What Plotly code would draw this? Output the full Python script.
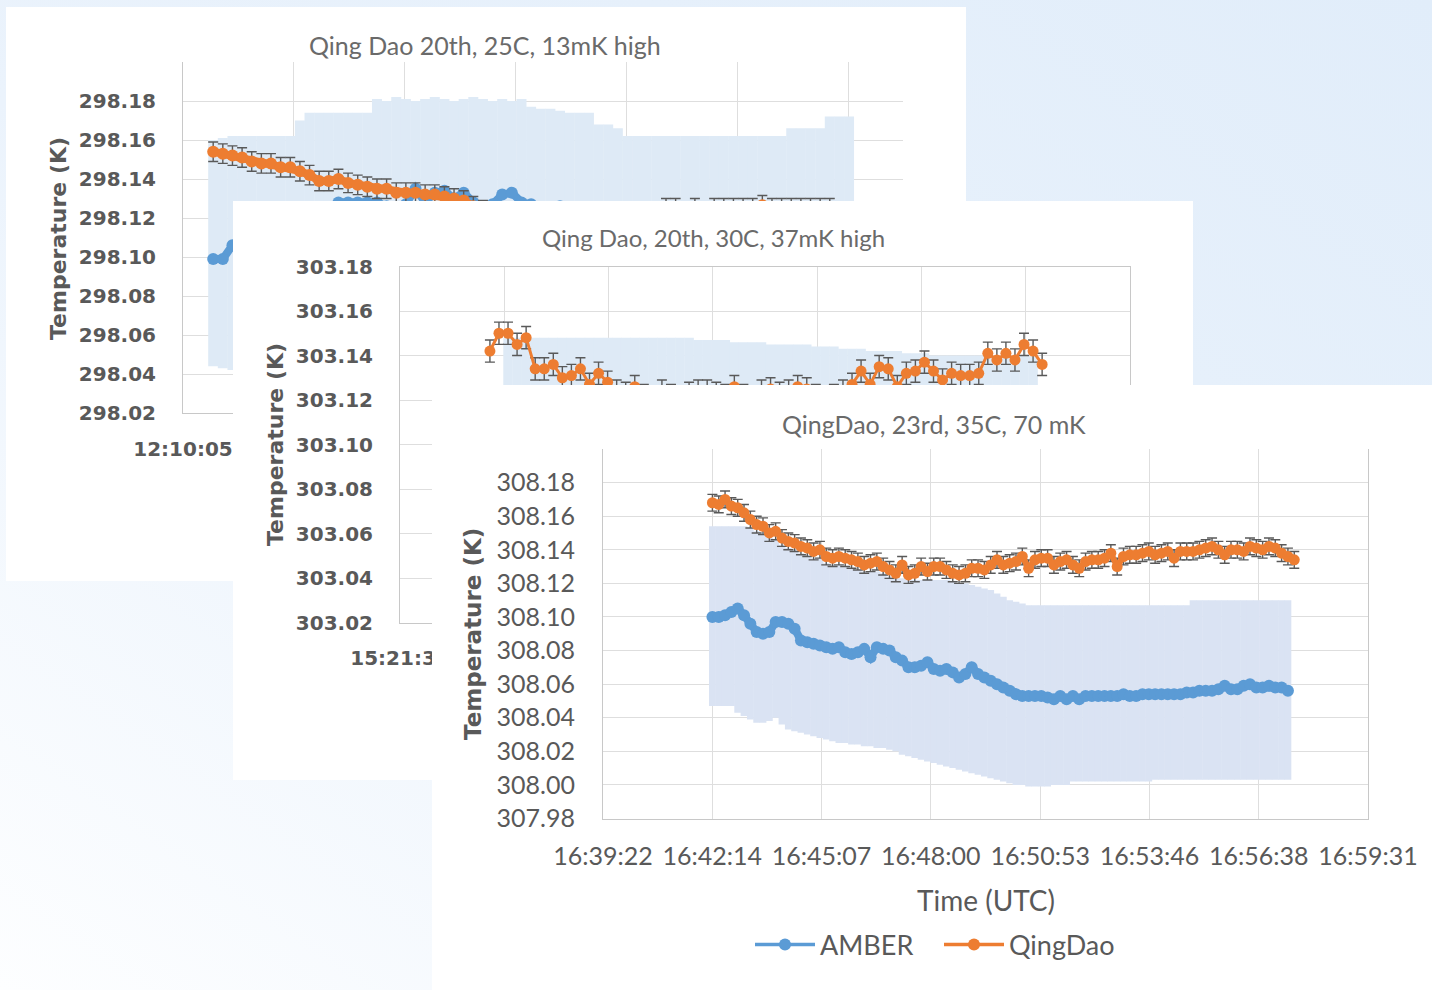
import base64
import pandas as pd
import plotly.graph_objects as go

W, H = 1432, 990

# ---------------- text ----------------
SERIES = ["AMBER", "QingDao"]
TITLES = ["Qing Dao 20th, 25C, 13mK high",
          "Qing Dao, 20th, 30C, 37mK high",
          "QingDao, 23rd, 35C, 70 mK"]
Y_TITLE = "Temperature (K)"
X_TITLE = "Time (UTC)"

TICK_STEP_S = 172.8   # 0.002 day between time ticks

# ---------------- panel 1: 20th, 25C ----------------
P1_DATE = "2019-08-20"
P1_X_RANGE = ["12:10:05", "12:28:46"]
P1_X_TICKS = ["12:10:05", "12:12:57", "12:15:50", "12:18:43", "12:21:36", "12:24:29", "12:27:21"]
P1_X_TICKS_SHOWN = 1          # the other labels sit under the next card
P1_Y_TICKS = [298.02, 298.04, 298.06, 298.08, 298.10, 298.12, 298.14, 298.16, 298.18]
P1_Y_RANGE = [298.02, 298.20]
P1_START = "12:10:52"
P1_STEP = "15s"
P1_AMBER = [
    298.099, 298.099, 298.106, 298.110, 298.114, 298.117, 298.119, 298.120, 298.122, 298.123,
    298.124, 298.124, 298.125, 298.128, 298.128, 298.128, 298.128, 298.128, 298.126, 298.125,
    298.127, 298.135, 298.128, 298.133, 298.134, 298.130, 298.133, 298.128, 298.126, 298.127,
    298.132, 298.133, 298.128, 298.127, 298.125, 298.125, 298.126, 298.125, 298.124, 298.125,
    298.125, 298.124, 298.125, 298.125, 298.124, 298.125, 298.124, 298.124, 298.125, 298.124,
    298.124, 298.125, 298.124, 298.124, 298.125, 298.124, 298.124, 298.125, 298.124, 298.124,
    298.125, 298.124, 298.124, 298.125, 298.124, 298.124, 298.125]
P1_AMBER_UPPER = [
    298.160, 298.161, 298.162, 298.162, 298.162, 298.162, 298.162, 298.162, 298.162, 298.170,
    298.174, 298.174, 298.174, 298.174, 298.174, 298.174, 298.174, 298.181, 298.180, 298.182,
    298.181, 298.180, 298.181, 298.182, 298.181, 298.180, 298.181, 298.182, 298.181, 298.180,
    298.181, 298.180, 298.181, 298.177, 298.176, 298.176, 298.175, 298.174, 298.174, 298.174,
    298.168, 298.168, 298.166, 298.162, 298.162, 298.162, 298.162, 298.162, 298.162, 298.162,
    298.162, 298.162, 298.162, 298.162, 298.162, 298.162, 298.162, 298.162, 298.162, 298.162,
    298.166, 298.166, 298.166, 298.166, 298.172, 298.172, 298.172]
P1_AMBER_LOWER = [
    298.044, 298.043, 298.042, 298.062, 298.066, 298.069, 298.071, 298.073, 298.074, 298.075,
    298.076, 298.076, 298.076, 298.076, 298.076, 298.076, 298.076, 298.076, 298.076, 298.076,
    298.077, 298.077, 298.077, 298.077, 298.077, 298.077, 298.077, 298.077, 298.077, 298.077,
    298.077, 298.077, 298.077, 298.077, 298.077, 298.077, 298.077, 298.077, 298.077, 298.077,
    298.078, 298.078, 298.078, 298.078, 298.078, 298.078, 298.078, 298.078, 298.078, 298.078,
    298.078, 298.078, 298.078, 298.078, 298.078, 298.078, 298.078, 298.078, 298.078, 298.078,
    298.078, 298.078, 298.078, 298.078, 298.078, 298.078, 298.078]
P1_QINGDAO = [
    298.154, 298.153, 298.152, 298.151, 298.149, 298.148, 298.148, 298.146, 298.146, 298.144,
    298.142, 298.139, 298.139, 298.140, 298.138, 298.137, 298.136, 298.135, 298.135, 298.133,
    298.133, 298.133, 298.132, 298.132, 298.131, 298.130, 298.129, 298.126, 298.124, 298.123,
    298.122, 298.122, 298.121, 298.122, 298.121, 298.122, 298.121, 298.122, 298.121, 298.122,
    298.121, 298.122, 298.121, 298.122, 298.121, 298.122, 298.122, 298.125, 298.125, 298.122,
    298.125, 298.122, 298.125, 298.125, 298.125, 298.125, 298.125, 298.1265, 298.125, 298.125,
    298.125, 298.125, 298.125, 298.125, 298.125, 298.122, 298.122]
P1_QINGDAO_ERR = 0.005

# ---------------- panel 2: 20th, 30C ----------------
P2_DATE = "2019-08-20"
P2_X_RANGE = ["15:21:36", "15:41:45.6"]
P2_X_TICKS = ["15:21:36", "15:24:28", "15:27:21", "15:30:14", "15:33:07", "15:36:00", "15:38:52", "15:41:45"]
P2_X_TICKS_SHOWN = 1          # the other labels sit under the front card
P2_Y_TICKS = [303.02, 303.04, 303.06, 303.08, 303.10, 303.12, 303.14, 303.16, 303.18]
P2_Y_RANGE = [303.02, 303.18]
P2_QD_START = "15:24:05"
P2_AMBER_START = "15:24:35"
P2_STEP = "15s"
P2_QINGDAO = [
    303.142, 303.150, 303.150, 303.145, 303.148, 303.134, 303.134, 303.136, 303.130, 303.131,
    303.134, 303.127, 303.132, 303.128, 303.124, 303.123, 303.126, 303.122, 303.121, 303.124,
    303.122, 303.121, 303.123, 303.124, 303.124, 303.123, 303.122, 303.126, 303.122, 303.121,
    303.124, 303.125, 303.123, 303.124, 303.126, 303.125, 303.122, 303.121, 303.122, 303.124,
    303.127, 303.133, 303.127, 303.135, 303.134, 303.126, 303.132, 303.133, 303.137, 303.133,
    303.129, 303.132, 303.131, 303.131, 303.132, 303.141, 303.138, 303.141, 303.138, 303.145,
    303.142, 303.136]
P2_QINGDAO_ERR = 0.005
P2_AMBER = [
    303.093, 303.093, 303.093, 303.093, 303.093, 303.093, 303.093, 303.093, 303.093, 303.093,
    303.093, 303.093, 303.093, 303.093, 303.093, 303.093, 303.093, 303.093,
    303.093, 303.093, 303.093, 303.092, 303.092, 303.092, 303.092, 303.091, 303.091, 303.091,
    303.091, 303.090, 303.090, 303.090,
    303.090, 303.090, 303.089, 303.089, 303.089, 303.088, 303.088, 303.088, 303.087, 303.087,
    303.087,
    303.087, 303.086, 303.086, 303.086, 303.085, 303.085, 303.085,
    303.085, 303.085, 303.085, 303.085, 303.085, 303.085, 303.085, 303.085, 303.085]
P2_AMBER_ERR = 0.055

# ---------------- panel 3: 23rd, 35C ----------------
P3_DATE = "2019-08-23"
P3_X_RANGE = ["16:39:22", "16:59:31.6"]
P3_X_TICKS = ["16:39:22", "16:42:14", "16:45:07", "16:48:00", "16:50:53", "16:53:46", "16:56:38", "16:59:31"]
P3_X_TICKS_SHOWN = 8
P3_Y_TICKS = [307.98, 308.00, 308.02, 308.04, 308.06, 308.08, 308.10, 308.12, 308.14, 308.16, 308.18]
P3_Y_RANGE = [307.98, 308.20]
P3_START = "16:42:15"
P3_STEP = "10s"
P3_QINGDAO = [
    308.168, 308.167, 308.170, 308.166, 308.165, 308.162, 308.158, 308.155, 308.154, 308.150,
    308.151, 308.147, 308.145, 308.144, 308.142, 308.141, 308.139, 308.140, 308.136, 308.135,
    308.136, 308.135, 308.134, 308.133, 308.131, 308.132, 308.133, 308.130, 308.128, 308.126,
    308.131, 308.125, 308.126, 308.130, 308.127, 308.130, 308.130, 308.128, 308.126, 308.125,
    308.126, 308.129, 308.129, 308.128, 308.131, 308.134, 308.131, 308.132, 308.133, 308.136,
    308.129, 308.134, 308.135, 308.135, 308.131, 308.133, 308.134, 308.131, 308.129, 308.133,
    308.134, 308.134, 308.135, 308.138, 308.130, 308.136, 308.137, 308.137, 308.138, 308.139,
    308.137, 308.138, 308.139, 308.135, 308.139, 308.139, 308.139, 308.140, 308.141, 308.142,
    308.140, 308.137, 308.140, 308.140, 308.139, 308.142, 308.141, 308.140, 308.142, 308.141,
    308.138, 308.136, 308.134]
P3_QINGDAO_ERR = 0.005
P3_AMBER = [
    308.100, 308.100, 308.101, 308.103, 308.105, 308.101, 308.096, 308.091, 308.090, 308.091,
    308.097, 308.097, 308.096, 308.093, 308.086, 308.085, 308.084, 308.083, 308.082, 308.081,
    308.082, 308.079, 308.078, 308.079, 308.081, 308.076, 308.082, 308.081, 308.080, 308.076,
    308.074, 308.070, 308.070, 308.071, 308.073, 308.069, 308.068, 308.069, 308.067, 308.064,
    308.066, 308.070, 308.066, 308.064, 308.062, 308.060, 308.058, 308.056, 308.054, 308.053,
    308.053, 308.053, 308.053, 308.052, 308.051, 308.053, 308.051, 308.053, 308.051, 308.053,
    308.053, 308.053, 308.053, 308.053, 308.053, 308.054, 308.053, 308.053, 308.054, 308.054,
    308.054, 308.054, 308.054, 308.054, 308.054, 308.055, 308.055, 308.056, 308.056, 308.056,
    308.057, 308.059, 308.057, 308.057, 308.059, 308.060, 308.058, 308.058, 308.059, 308.058,
    308.058, 308.056]
P3_AMBER_UPPER = [
    308.154, 308.154, 308.154, 308.154, 308.154, 308.154, 308.153, 308.151, 308.150, 308.147,
    308.146, 308.143, 308.141, 308.140, 308.138, 308.137, 308.135, 308.135, 308.132, 308.131,
    308.131, 308.130, 308.129, 308.128, 308.127, 308.127, 308.127, 308.126, 308.124, 308.123,
    308.123, 308.122, 308.122, 308.122, 308.122, 308.122, 308.122, 308.122, 308.121, 308.120,
    308.120, 308.119, 308.118, 308.117, 308.116, 308.114, 308.112, 308.110, 308.109, 308.108,
    308.107, 308.107, 308.107, 308.107, 308.107, 308.107, 308.107, 308.107, 308.107, 308.107,
    308.107, 308.107, 308.107, 308.107, 308.107, 308.107, 308.107, 308.107, 308.107, 308.107,
    308.107, 308.107, 308.107, 308.107, 308.107, 308.107, 308.110, 308.110, 308.110, 308.110,
    308.110, 308.110, 308.110, 308.110, 308.110, 308.110, 308.110, 308.110, 308.110, 308.110,
    308.110, 308.110]
P3_AMBER_LOWER = [
    308.047, 308.047, 308.047, 308.047, 308.043, 308.041, 308.039, 308.037, 308.037, 308.038,
    308.040, 308.036, 308.033, 308.032, 308.031, 308.030, 308.029, 308.028, 308.027, 308.026,
    308.025, 308.025, 308.024, 308.024, 308.023, 308.023, 308.022, 308.022, 308.021, 308.020,
    308.018, 308.017, 308.016, 308.015, 308.014, 308.013, 308.012, 308.011, 308.010, 308.009,
    308.008, 308.007, 308.006, 308.005, 308.004, 308.003, 308.002, 308.001, 308.000, 308.000,
    307.999, 307.999, 307.999, 307.999, 308.000, 308.000, 308.000, 308.002, 308.002, 308.002,
    308.002, 308.002, 308.002, 308.002, 308.002, 308.002, 308.002, 308.002, 308.002, 308.002,
    308.003, 308.003, 308.003, 308.003, 308.003, 308.003, 308.003, 308.003, 308.003, 308.003,
    308.003, 308.003, 308.003, 308.003, 308.003, 308.003, 308.003, 308.003, 308.003, 308.003,
    308.003, 308.003]

# ---------------- styles ----------------
BLUE = "#5b9bd5"
ORANGE = "#ed7d31"
ERR_LIGHT_A = "#deeaf6"
ERR_LIGHT_B = "#dae3f3"
CAP = "#595959"
GRID = "#dedede"
AXLINE = "#c8c8c8"
TXT = "#595959"
CALIBRI_LIKE = "Lato, Noto Sans, sans-serif"
VERDANA_LIKE = "DejaVu Sans, Verdana, sans-serif"


def stamp(date, hms):
    return pd.Timestamp(f"{date} {hms}")


def iso(ts):
    return ts.strftime("%Y-%m-%d %H:%M:%S.%f")[:-3]


def times(date, start, step, n):
    return [iso(t) for t in pd.date_range(stamp(date, start), periods=n, freq=step)]


def tick_positions(date, labels):
    t0 = stamp(date, labels[0])
    return [iso(t0 + pd.Timedelta(seconds=TICK_STEP_S * k)) for k in range(len(labels))]


def px_x(p):
    return p / W


def px_y(p):
    return 1 - p / H


fig = go.Figure()


def amber_trace(x, y, plus, minus, ax, color_err, thick, msize, lw):
    return go.Scatter(
        x=x, y=y, name=SERIES[0], mode="lines+markers",
        line=dict(color=BLUE, width=lw), marker=dict(color=BLUE, size=msize),
        error_y=dict(type="data", symmetric=False, array=plus, arrayminus=minus,
                     color=color_err, thickness=thick, width=0),
        xaxis="x" + ax, yaxis="y" + ax, showlegend=False, hoverinfo="skip",
        cliponaxis=True)


def qd_trace(x, y, err, ax, msize, lw):
    return go.Scatter(
        x=x, y=y, name=SERIES[1], mode="lines+markers",
        line=dict(color=ORANGE, width=lw), marker=dict(color=ORANGE, size=msize),
        error_y=dict(type="constant", value=err, color=CAP, thickness=1.4, width=5),
        xaxis="x" + ax, yaxis="y" + ax, showlegend=False, hoverinfo="skip",
        cliponaxis=True)


def legend_key(name, color, ax):
    # legend entry only (thin line + dot, as in the spreadsheet legend)
    return go.Scatter(x=[None], y=[None], name=name, mode="lines+markers",
                      line=dict(color=color, width=3.5), marker=dict(color=color, size=12),
                      xaxis="x" + ax, yaxis="y" + ax, showlegend=True, hoverinfo="skip")


def dummy(ax):
    return go.Scatter(x=[0.5], y=[0.5], mode="markers", marker=dict(opacity=0),
                      xaxis="x" + ax, yaxis="y" + ax, showlegend=False, hoverinfo="skip")


# panel 1 (subplot x/y)
fig.add_trace(amber_trace(times(P1_DATE, P1_START, P1_STEP, len(P1_AMBER)), P1_AMBER,
                          [u - v for u, v in zip(P1_AMBER_UPPER, P1_AMBER)],
                          [v - l for v, l in zip(P1_AMBER, P1_AMBER_LOWER)],
                          "", ERR_LIGHT_A, 10, 12, 8))
fig.add_trace(qd_trace(times(P1_DATE, P1_START, P1_STEP, len(P1_QINGDAO)), P1_QINGDAO,
                       P1_QINGDAO_ERR, "", 12, 8))
# panel 2 white card (subplot x2/y2)
fig.add_trace(dummy("2"))
# panel 2 (subplot x3/y3)
fig.add_trace(amber_trace(times(P2_DATE, P2_AMBER_START, P2_STEP, len(P2_AMBER)), P2_AMBER,
                          [P2_AMBER_ERR] * len(P2_AMBER), [P2_AMBER_ERR] * len(P2_AMBER),
                          "3", ERR_LIGHT_A, 9.5, 11, 3))
fig.add_trace(qd_trace(times(P2_DATE, P2_QD_START, P2_STEP, len(P2_QINGDAO)), P2_QINGDAO,
                       P2_QINGDAO_ERR, "3", 11, 3))
# panel 3 white card (subplot x4/y4)
fig.add_trace(dummy("4"))
# panel 3 (subplot x5/y5)
fig.add_trace(amber_trace(times(P3_DATE, P3_START, P3_STEP, len(P3_AMBER)), P3_AMBER,
                          [u - v for u, v in zip(P3_AMBER_UPPER, P3_AMBER)],
                          [v - l for v, l in zip(P3_AMBER, P3_AMBER_LOWER)],
                          "5", ERR_LIGHT_B, 6.8, 12, 8))
fig.add_trace(qd_trace(times(P3_DATE, P3_START, P3_STEP, len(P3_QINGDAO)), P3_QINGDAO,
                       P3_QINGDAO_ERR, "5", 11, 6))
fig.add_trace(legend_key(SERIES[0], BLUE, "5"))
fig.add_trace(legend_key(SERIES[1], ORANGE, "5"))

tick_font_a = dict(family=VERDANA_LIKE, size=20, color=TXT, weight="bold")
tick_font_b = dict(family=CALIBRI_LIKE, size=25, color=TXT)


def time_axis(date, rng, labels, shown, dom, font, anchor, standoff, mirror=False):
    text = [lab if k < shown else "" for k, lab in enumerate(labels)]
    return dict(type="date", range=[iso(stamp(date, rng[0])), iso(stamp(date, rng[1]))],
                tickmode="array", tickvals=tick_positions(date, labels), ticktext=text,
                domain=dom, anchor=anchor, showgrid=True, gridcolor=GRID, gridwidth=1,
                showline=True, linecolor=AXLINE, linewidth=1, mirror=mirror,
                zeroline=False, ticks="", tickfont=font, ticklabelstandoff=standoff,
                automargin=False, fixedrange=True)


def value_axis(rng, ticks, dom, font, anchor, mirror=False):
    return dict(range=rng, tickmode="array", tickvals=ticks, tickformat=".2f",
                domain=dom, anchor=anchor, showgrid=True, gridcolor=GRID, gridwidth=1,
                showline=True, linecolor=AXLINE, linewidth=1, mirror=mirror,
                zeroline=False, ticks="", tickfont=font, ticklabelstandoff=22,
                automargin=False, fixedrange=True)


def hidden_axis(dom, anchor):
    return dict(range=[0, 1], domain=dom, anchor=anchor, visible=False,
                automargin=False, fixedrange=True)


P1_DOM = ([px_x(183), px_x(903)], [px_y(413), px_y(62)])
P2_CARD = ([px_x(233), px_x(1193)], [px_y(780), px_y(201)])
P2_DOM = ([px_x(400), px_x(1130)], [px_y(622.5), px_y(266.5)])
P3_CARD = ([px_x(432), 1.0], [0.0, px_y(385)])
P3_DOM = ([px_x(603), px_x(1368)], [px_y(818.5), px_y(449)])

svg = ('<svg xmlns="http://www.w3.org/2000/svg" width="1432" height="990">'
       '<defs><linearGradient id="g" x1="1" y1="0" x2="0" y2="1">'
       '<stop offset="0" stop-color="#e1edfa"/><stop offset="0.55" stop-color="#ebf3fc"/>'
       '<stop offset="1" stop-color="#fdfeff"/></linearGradient></defs>'
       '<rect width="1432" height="990" fill="url(#g)"/></svg>')
bg_src = "data:image/svg+xml;base64," + base64.b64encode(svg.encode()).decode()

ytitle_font = dict(family=VERDANA_LIKE, size=22, color=TXT, weight="bold")

annotations = [
    dict(text=TITLES[0], x=px_x(485), y=px_y(45),
         font=dict(family=CALIBRI_LIKE, size=25, color="#6a6a6a")),
    dict(text=TITLES[1], x=px_x(713), y=px_y(237),
         font=dict(family=CALIBRI_LIKE, size=24, color="#6a6a6a")),
    dict(text=TITLES[2], x=px_x(934), y=px_y(424),
         font=dict(family=CALIBRI_LIKE, size=25, color="#6a6a6a")),
    dict(text=Y_TITLE, x=px_x(58), y=px_y(239), textangle=-90, font=ytitle_font),
    dict(text=Y_TITLE, x=px_x(275), y=px_y(445), textangle=-90, font=ytitle_font),
    dict(text=Y_TITLE, x=px_x(473), y=px_y(634), textangle=-90,
         font=dict(family=VERDANA_LIKE, size=23, color=TXT, weight="bold")),
    dict(text=X_TITLE, x=px_x(986), y=px_y(900),
         font=dict(family=CALIBRI_LIKE, size=28, color=TXT)),
]
for a in annotations:
    a.update(xref="paper", yref="paper", showarrow=False, xanchor="center", yanchor="middle")

fig.update_layout(
    template="none",
    width=W, height=H, autosize=False,
    margin=dict(l=0, r=0, t=0, b=0, pad=0, autoexpand=False),
    paper_bgcolor="#e8f1fc", plot_bgcolor="#ffffff",
    images=[dict(source=bg_src, xref="paper", yref="paper", x=0, y=1, sizex=1, sizey=1,
                 xanchor="left", yanchor="top", sizing="stretch", layer="below")],
    shapes=[dict(type="rect", xref="paper", yref="paper", x0=px_x(6), x1=px_x(966),
                 y0=px_y(581), y1=px_y(7), fillcolor="#ffffff", line=dict(width=0),
                 layer="below")],
    xaxis=time_axis(P1_DATE, P1_X_RANGE, P1_X_TICKS, P1_X_TICKS_SHOWN, P1_DOM[0],
                    tick_font_a, "y", 18),
    yaxis=value_axis(P1_Y_RANGE, P1_Y_TICKS, P1_DOM[1], tick_font_a, "x"),
    xaxis2=hidden_axis(P2_CARD[0], "y2"),
    yaxis2=hidden_axis(P2_CARD[1], "x2"),
    xaxis3=time_axis(P2_DATE, P2_X_RANGE, P2_X_TICKS, P2_X_TICKS_SHOWN, P2_DOM[0],
                     tick_font_a, "y3", 17, mirror=True),
    yaxis3=value_axis(P2_Y_RANGE, P2_Y_TICKS, P2_DOM[1], tick_font_a, "x3", mirror=True),
    xaxis4=hidden_axis(P3_CARD[0], "y4"),
    yaxis4=hidden_axis(P3_CARD[1], "x4"),
    xaxis5=time_axis(P3_DATE, P3_X_RANGE, P3_X_TICKS, P3_X_TICKS_SHOWN, P3_DOM[0],
                     tick_font_b, "y5", 15),
    yaxis5=value_axis(P3_Y_RANGE, P3_Y_TICKS, P3_DOM[1], tick_font_b, "x5", mirror=True),
    annotations=annotations,
    legend=dict(orientation="h", x=px_x(939), y=px_y(945), xanchor="center", yanchor="middle",
                font=dict(family=CALIBRI_LIKE, size=27, color=TXT), itemwidth=60,
                entrywidth=114, entrywidthmode="pixels",
                bgcolor="rgba(0,0,0,0)", traceorder="normal"),
    showlegend=True,
)

fig.write_html("out.html", include_plotlyjs=True, full_html=True,
               config=dict(displayModeBar=False, staticPlot=True))
